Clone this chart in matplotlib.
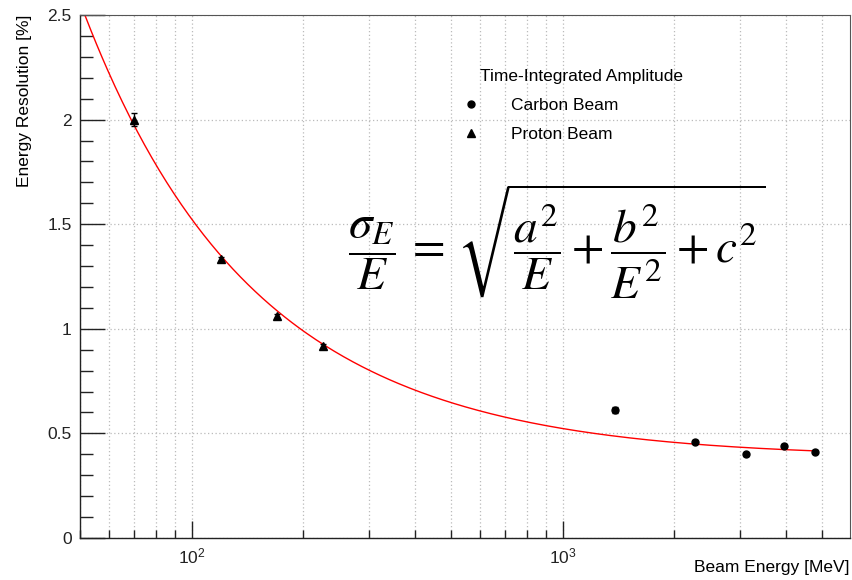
import numpy as np
import matplotlib
matplotlib.use("Agg")
import matplotlib.pyplot as plt
from matplotlib.lines import Line2D
from matplotlib.ticker import MultipleLocator, LogLocator, NullFormatter, FixedLocator

plt.rcParams['font.family'] = ['Liberation Sans', 'DejaVu Sans']
plt.rcParams['mathtext.fontset'] = 'custom'
plt.rcParams['mathtext.rm'] = 'Liberation Sans'
plt.rcParams['mathtext.it'] = 'Liberation Sans:italic'

# --- data ---
proton_E = [70, 120, 170, 226]
proton_res = [2.00, 1.335, 1.062, 0.918]
proton_err = [0.03, 0.01, 0.01, 0.01]

carbon_E = [1380, 2280, 3120, 3960, 4800]
carbon_res = [0.613, 0.460, 0.400, 0.441, 0.413]
carbon_err = [0.015, 0.008, 0.008, 0.008, 0.008]

# fit parameters of sigma/E = sqrt(a^2/E + b^2/E^2 + c^2)
fit_a, fit_b, fit_c = 10.7, 101.5, 0.386
fit_range = (50, 4800)

FS = 12.5

fig = plt.figure(figsize=(8.53, 5.80), dpi=100)
ax = fig.add_axes([80 / 853, 42 / 580, 770 / 853, 523 / 580])

# fit curve
E = np.geomspace(fit_range[0], fit_range[1], 400)
res = np.sqrt(fit_a**2 / E + fit_b**2 / E**2 + fit_c**2)
ax.plot(E, res, color='red', lw=1.0, zorder=2)

# points
ax.errorbar(carbon_E, carbon_res, yerr=carbon_err, fmt='o', color='black',
            ms=5, capsize=2.5, elinewidth=1, capthick=1, zorder=3)
ax.errorbar(proton_E, proton_res, yerr=proton_err, fmt='^', color='black',
            ms=5.5, capsize=2.5, elinewidth=1, capthick=1, zorder=3)

# axes
ax.set_xscale('log')
ax.set_xlim(50, 5950)
ax.set_ylim(0, 2.5)

ax.xaxis.set_major_locator(FixedLocator([100, 1000]))
ax.xaxis.set_minor_locator(LogLocator(base=10, subs=np.arange(2, 10)))
ax.xaxis.set_minor_formatter(NullFormatter())
ax.yaxis.set_major_locator(MultipleLocator(0.5))
ax.yaxis.set_minor_locator(MultipleLocator(0.1))
ax.yaxis.set_major_formatter(plt.FuncFormatter(lambda v, p: f"{v:g}"))

ax.tick_params(which='both', direction='in', colors='#222222', width=1.0,
               labelsize=FS, top=False, right=False)
ax.tick_params(axis='y', which='major', length=18, pad=6)
ax.tick_params(axis='y', which='minor', length=9)
ax.tick_params(axis='x', which='major', length=12, pad=6)
ax.tick_params(axis='x', which='minor', length=6)

# ROOT-style dotted grid
ax.grid(axis='x', which='both', color='#bbbbbb', ls=(0, (1, 2)), lw=0.9)
ax.grid(axis='y', which='major', color='#bbbbbb', ls=(0, (1, 2)), lw=0.9)
ax.set_axisbelow(True)

for s in ['left', 'bottom']:
    ax.spines[s].set_color('#222222')
    ax.spines[s].set_linewidth(1.0)
for s in ['top', 'right']:
    ax.spines[s].set_color('#555555')
    ax.spines[s].set_linewidth(0.8)

ax.set_ylabel('Energy Resolution [%]', fontsize=FS, loc='top')
ax.yaxis.set_label_coords(-0.062, 1.0)
ax.set_xlabel('Beam Energy [MeV]', fontsize=FS, loc='right')
ax.xaxis.set_label_coords(1.0, -0.042)

# legend (markers only, like the ROOT legend)
handles = [Line2D([], [], ls='none', marker='o', color='black', ms=5, label='Carbon Beam'),
           Line2D([], [], ls='none', marker='^', color='black', ms=5.5, label='Proton Beam')]
ax.legend(handles=handles, loc='upper left',
          bbox_to_anchor=((462 - 80) / 770, (538 - 98) / 523),
          frameon=False, fontsize=FS, handlelength=1.0, handletextpad=1.8,
          labelspacing=0.8, borderpad=0.0, borderaxespad=0.0)
ax.text((480 - 80) / 770, (538 - 77) / 523, 'Time-Integrated Amplitude',
        transform=ax.transAxes, ha='left', va='center', fontsize=FS)

# formula
ax.text((557 - 80) / 770, (538 - 242) / 523,
        r'$\dfrac{\sigma_E}{E}\,=\,\sqrt{\dfrac{a^2}{E}+\dfrac{b^2}{E^2}+c^2}$',
        transform=ax.transAxes, ha='center', va='center', fontsize=34,
        math_fontfamily='stix')

fig.savefig('out.png', dpi=100)
